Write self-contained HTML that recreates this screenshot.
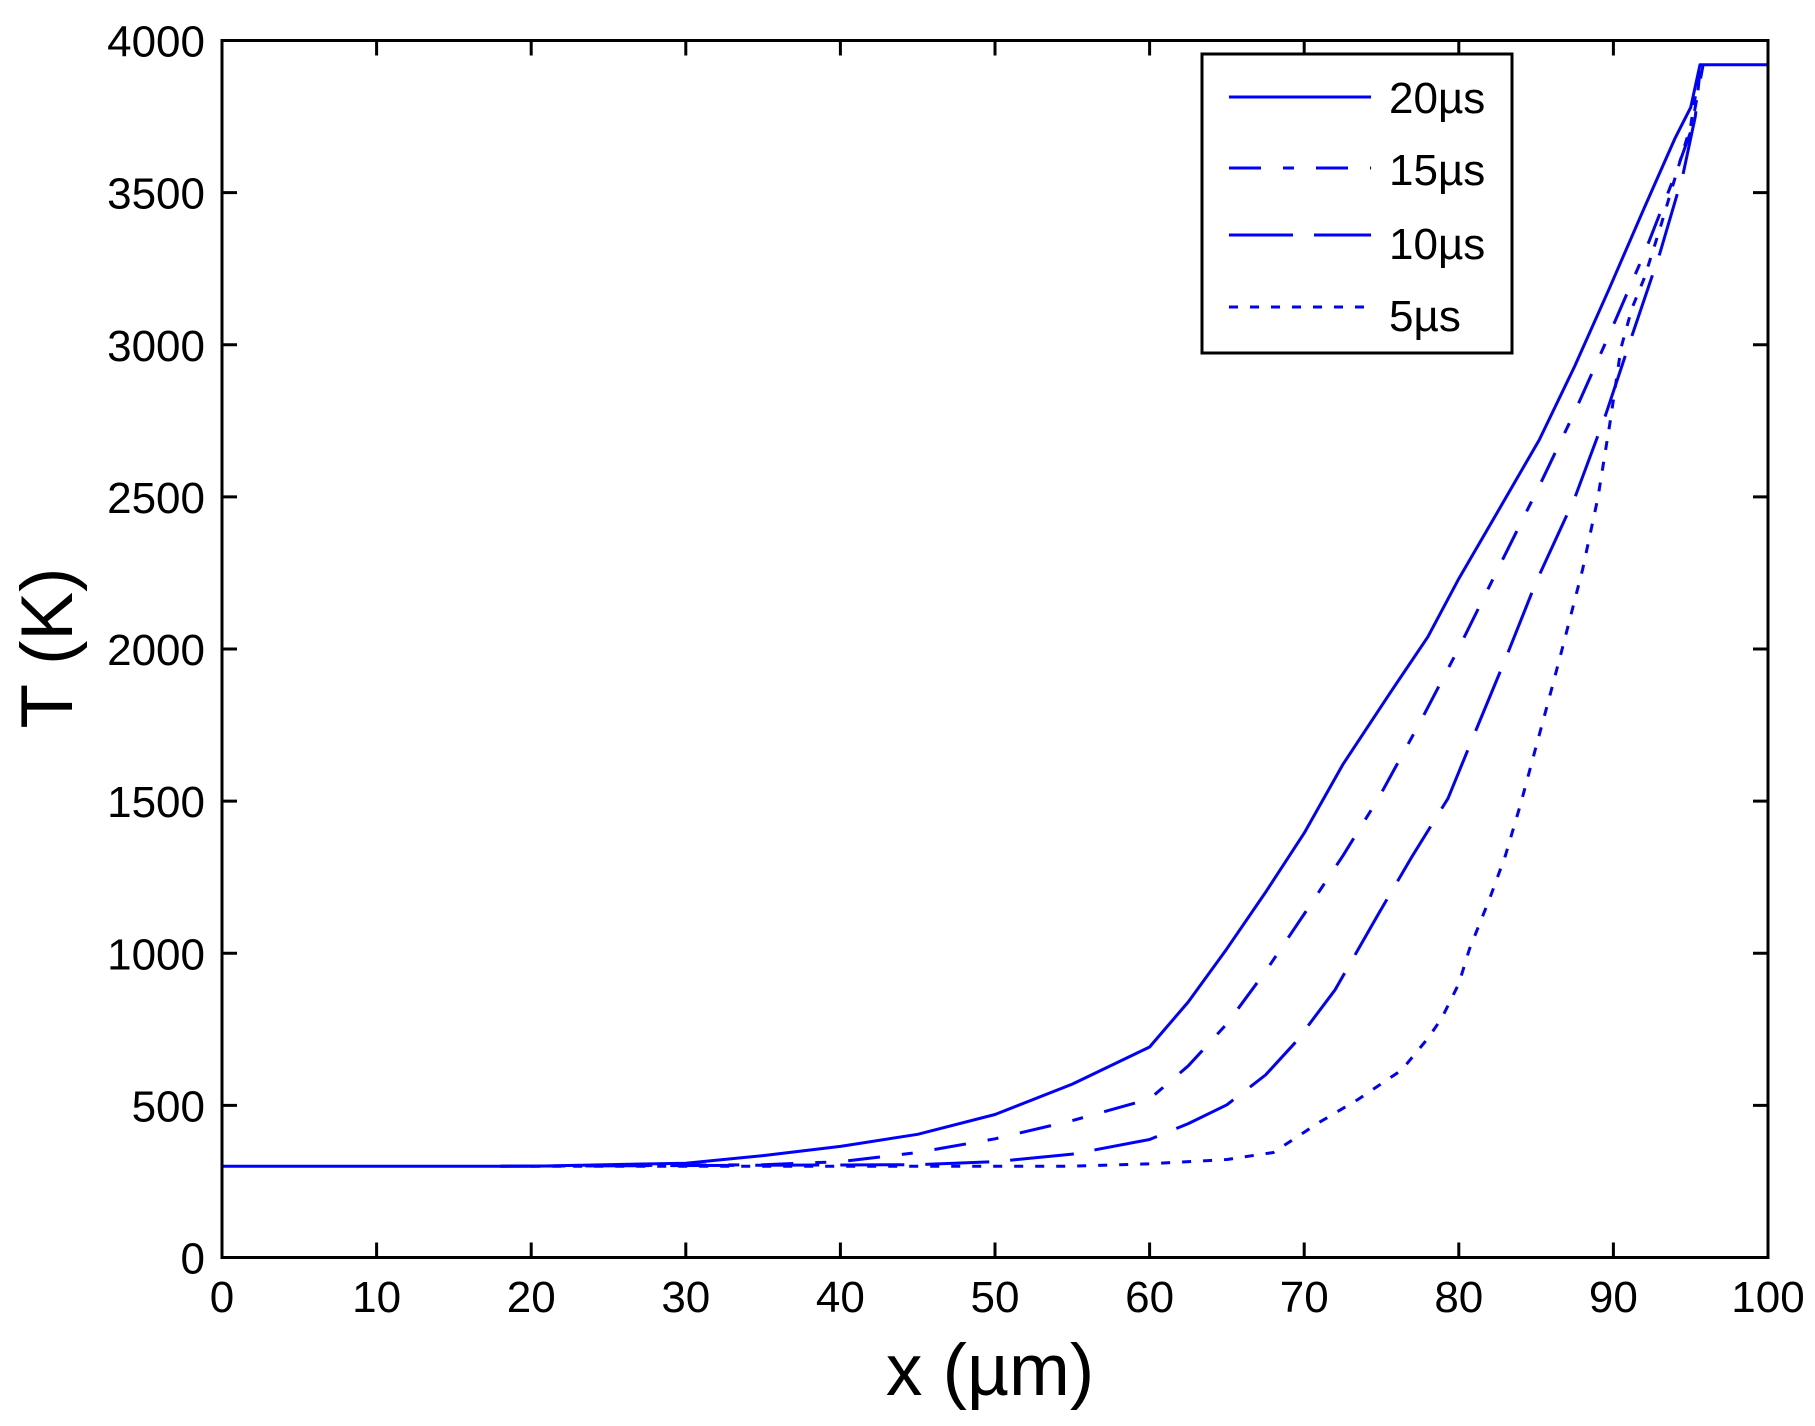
<!DOCTYPE html>
<html><head><meta charset="utf-8"><style>
html,body{margin:0;padding:0;background:#fff}
svg{display:block}
text{font-family:"Liberation Sans",Arial,sans-serif;fill:#000}
</style></head><body>
<svg id="s" width="1815" height="1426" viewBox="0 0 1815 1426" xmlns="http://www.w3.org/2000/svg">
<rect x="0" y="0" width="1815" height="1426" fill="#fff"/>
<g id="curves" fill="none" stroke="#0000ff" stroke-width="3"></g>
<rect x="222" y="40.5" width="1546" height="1217" fill="none" stroke="#000" stroke-width="3"/>
<g id="ticks" stroke="#000" stroke-width="3"></g>
<g id="labels" font-size="44"></g>
<text x="990" y="1395" font-size="73" text-anchor="middle">x (µm)</text>
<text transform="translate(72,648) rotate(-90)" font-size="73" text-anchor="middle">T (K)</text>
<rect x="1202" y="54" width="310" height="299" fill="#fff" stroke="#000" stroke-width="3"/>
<g stroke="#0000ff" stroke-width="3">
<line x1="1229" y1="97" x2="1371" y2="97"/>
<line x1="1229" y1="168" x2="1371" y2="168" stroke-dasharray="32,22,11,22"/>
<line x1="1229" y1="235" x2="1371" y2="235" stroke-dasharray="64,21"/>
<line x1="1229" y1="307" x2="1371" y2="307" stroke-dasharray="9,12"/>
</g>
<g font-size="44">
<text x="1389" y="113">20µs</text>
<text x="1389" y="185">15µs</text>
<text x="1389" y="259">10µs</text>
<text x="1389" y="331">5µs</text>
</g>
</svg>
<script>
var X0=222,X1=1768,Y0=1257.5,Y1=40.5;
function px(x){return X0+(X1-X0)*x/100}
function py(y){return Y0-(Y0-Y1)*y/4000}
var ns="http://www.w3.org/2000/svg";
function el(t,a,p){var e=document.createElementNS(ns,t);for(var k in a)e.setAttribute(k,a[k]);p.appendChild(e);return e}
var tk=document.getElementById('ticks'),lb=document.getElementById('labels');
for(var i=0;i<=10;i++){var x=px(i*10);
 el('line',{x1:x,y1:Y0,x2:x,y2:Y0-15},tk);el('line',{x1:x,y1:Y1,x2:x,y2:Y1+15},tk);
 var t=el('text',{x:x,y:1312,'text-anchor':'middle'},lb);t.textContent=i*10;}
for(var j=0;j<=8;j++){var y=py(j*500);
 el('line',{x1:X0,y1:y,x2:X0+15,y2:y},tk);el('line',{x1:X1,y1:y,x2:X1-15,y2:y},tk);
 var t=el('text',{x:205,y:y+16,'text-anchor':'end'},lb);t.textContent=j*500;}
var data=[
 [[[0,300],[20,300],[30,310],[35,335],[40,365],[45,405],[50,470],[55,570],[60,692],[62.5,840],[65,1015],[67.5,1200],[70,1395],[72.5,1620],[75.5,1851],[78,2040],[80,2231],[82.5,2450],[85.2,2687],[87.5,2930],[89.7,3181],[92,3450],[94,3680],[95,3780],[95.6,3920],[100,3920]],"none"],
 [[[18,300],[35,305],[40,315],[45,345],[50,390],[55,450],[60,521],[62.5,630],[65,768],[67.5,940],[70,1129],[72.5,1320],[74.8,1509],[77.5,1760],[80,2003],[82.5,2260],[85.2,2535],[87.5,2780],[89.7,3030],[92,3300],[94,3560],[95,3700],[95.8,3920]],"32,22,11,22"],
 [[[18,300],[45,305],[50,315],[55,340],[60,388],[62.5,440],[65,502],[67.5,600],[69.5,711],[72,880],[74.8,1129],[77,1320],[79.3,1509],[81,1720],[83,1965],[85,2220],[87.5,2497],[89.5,2770],[91.2,3030],[93,3300],[94.5,3560],[95.3,3750],[95.6,3900]],"64,21"],
 [[[20,300],[55,300],[60,308],[65,322],[68,345],[71,445],[73.5,520],[76.3,616],[78,720],[78.9,787],[80,900],[80.7,1015],[82,1180],[83,1319],[84,1490],[84.9,1661],[85.8,1830],[86.7,2003],[88,2260],[89,2497],[89.8,2750],[90.5,2991],[91.2,3120],[92,3219],[93,3380],[94,3550],[95,3720],[95.5,3880]],"9,12"]
];
var cg=document.getElementById('curves');
data.forEach(function(c){
 var p=c[0],d="";
 for(var i=0;i<p.length;i++){
  d+=(i?"L":"M")+px(p[i][0]).toFixed(1)+","+py(p[i][1]).toFixed(1);
 }
 var at={d:d,'stroke-linejoin':'round'};if(c[1]!="none")at['stroke-dasharray']=c[1];
 el('path',at,cg);
});
</script>
</body></html>
